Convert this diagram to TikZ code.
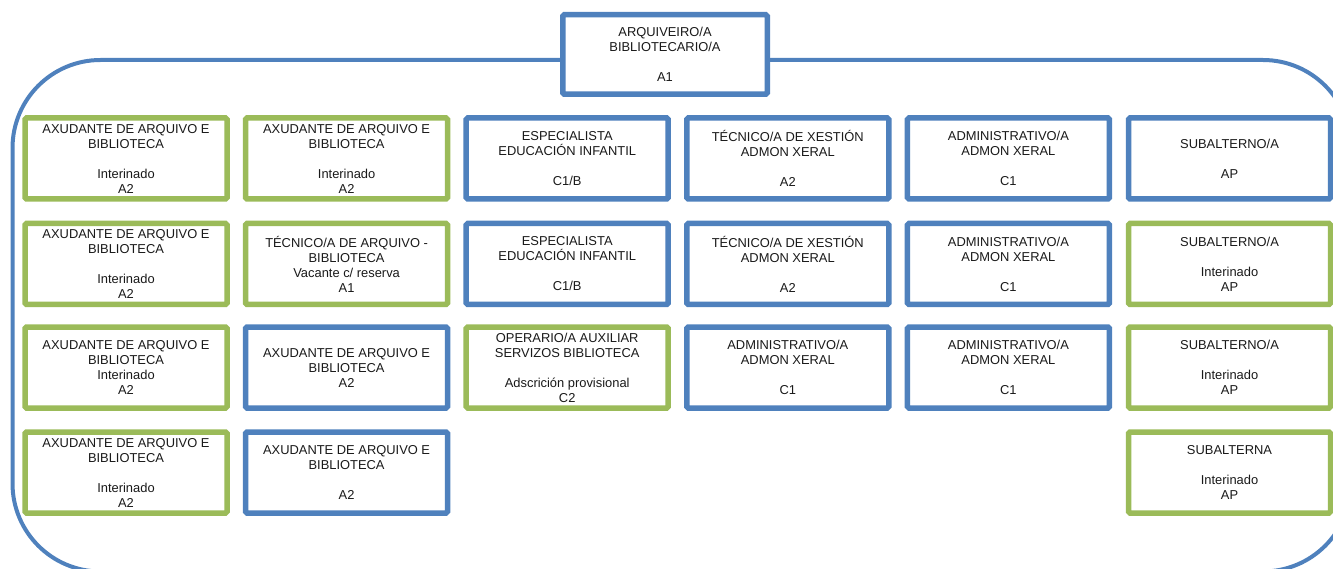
\documentclass[tikz,border=0pt]{standalone}
\usepackage{fontspec}
\setmainfont{Liberation Sans}
\definecolor{bl}{HTML}{4F81BD}
\definecolor{gr}{HTML}{9BBB59}
\definecolor{ink}{HTML}{1A1A1A}
\tikzset{
  box/.style={draw, line width=5.5pt, fill=white, minimum width=202pt, minimum height=81pt,
    align=center, inner sep=0pt, text=ink, font=\fontsize{12.9}{15}\selectfont, rounded corners=1.5pt},
  bbox/.style={box, draw=bl},
  gbox/.style={box, draw=gr},
  frame/.style={draw=bl, line width=4pt, rounded corners=88pt}
}
\begin{document}
\begin{tikzpicture}[x=1pt,y=-1pt]
\useasboundingbox (0,0) rectangle (1333,569);
\clip (0,0) rectangle (1333,569);
\draw[frame] (12.5,60) rectangle (1351,571.5);
\node[bbox, minimum width=204.5pt, minimum height=79.5pt] (top) at (665,54.5) {ARQUIVEIRO/A\\BIBLIOTECARIO/A\\[15pt]A1};
% row 1
\node[gbox] (r1c1) at (126,158.5) {AXUDANTE DE ARQUIVO E\\BIBLIOTECA\\[15pt]Interinado\\A2};
\node[gbox] (r1c2) at (346.6,158.5) {AXUDANTE DE ARQUIVO E\\BIBLIOTECA\\[15pt]Interinado\\A2};
\node[bbox] (r1c3) at (567.2,158.5) {ESPECIALISTA\\EDUCACIÓN INFANTIL\\[15pt]C1/B};
\node[bbox] (r1c4) at (787.8,158.5) {TÉCNICO/A DE XESTIÓN\\ADMON XERAL\\[15pt]A2};
\node[bbox] (r1c5) at (1008.4,158.5) {ADMINISTRATIVO/A\\ADMON XERAL\\[15pt]C1};
\node[bbox] (r1c6) at (1229.5,158.5) {SUBALTERNO/A\\[15pt]AP};
% row 2
\node[gbox] (r2c1) at (126,264) {AXUDANTE DE ARQUIVO E\\BIBLIOTECA\\[15pt]Interinado\\A2};
\node[gbox] (r2c2) at (346.6,264) {TÉCNICO/A DE ARQUIVO -\\BIBLIOTECA\\Vacante c/ reserva\\A1};
\node[bbox] (r2c3) at (567.2,264) {ESPECIALISTA\\EDUCACIÓN INFANTIL\\[15pt]C1/B};
\node[bbox] (r2c4) at (787.8,264) {TÉCNICO/A DE XESTIÓN\\ADMON XERAL\\[15pt]A2};
\node[bbox] (r2c5) at (1008.4,264) {ADMINISTRATIVO/A\\ADMON XERAL\\[15pt]C1};
\node[gbox] (r2c6) at (1229.5,264) {SUBALTERNO/A\\[15pt]Interinado\\AP};
% row 3
\node[gbox] (r3c1) at (126,367.5) {AXUDANTE DE ARQUIVO E\\BIBLIOTECA\\Interinado\\A2};
\node[bbox] (r3c2) at (346.6,367.5) {AXUDANTE DE ARQUIVO E\\BIBLIOTECA\\A2};
\node[gbox] (r3c3) at (567.2,367.5) {OPERARIO/A AUXILIAR\\SERVIZOS BIBLIOTECA\\[15pt]Adscrición provisional\\C2};
\node[bbox] (r3c4) at (787.8,367.5) {ADMINISTRATIVO/A\\ADMON XERAL\\[15pt]C1};
\node[bbox] (r3c5) at (1008.4,367.5) {ADMINISTRATIVO/A\\ADMON XERAL\\[15pt]C1};
\node[gbox] (r3c6) at (1229.5,367.5) {SUBALTERNO/A\\[15pt]Interinado\\AP};
% row 4
\node[gbox] (r4c1) at (126,472.5) {AXUDANTE DE ARQUIVO E\\BIBLIOTECA\\[15pt]Interinado\\A2};
\node[bbox] (r4c2) at (346.6,472.5) {AXUDANTE DE ARQUIVO E\\BIBLIOTECA\\[15pt]A2};
\node[gbox] (r4c6) at (1229.5,472.5) {SUBALTERNA\\[15pt]Interinado\\AP};
\end{tikzpicture}
\end{document}
